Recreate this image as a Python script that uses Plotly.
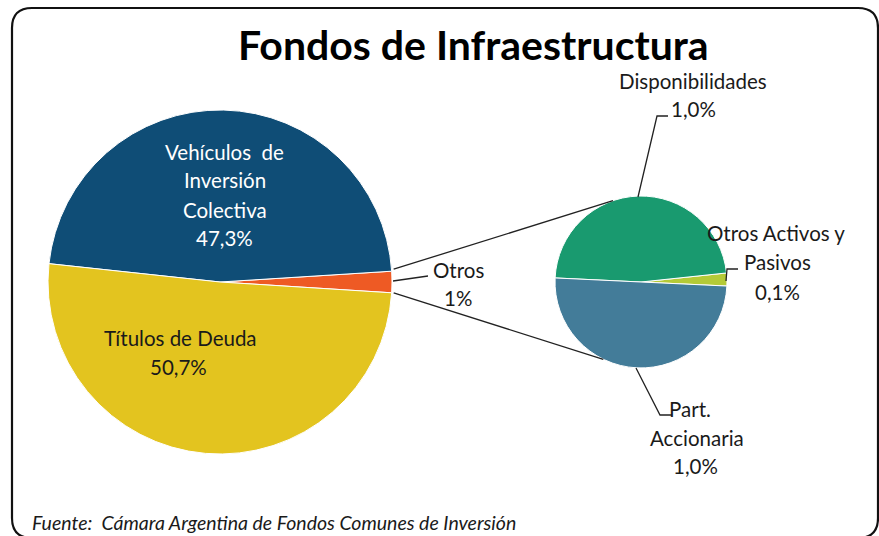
import math
import plotly.graph_objects as go

W, H = 879, 536

# ---- data ----
main_labels = ["Otros", "Vehículos de Inversión Colectiva", "Títulos de Deuda"]
main_values = [2.0, 47.3, 50.7]
main_colors = ["#EE5A24", "#0F4D76", "#E3C41F"]

sub_labels = ["Otros Activos y Pasivos", "Disponibilidades", "Part. Accionaria"]
sub_values = [0.05, 0.98, 1.03]
sub_colors = ["#B4CA37", "#199A6F", "#437C99"]

title_text = "Fondos de Infraestructura"
source_text = "Fuente:  Cámara Argentina de Fondos Comunes de Inversión"

# ---- geometry (pixels) ----
MC = (220, 282); MR = 172
SC = (641, 282); SR = 86

def px(x, y):
    return x / W, 1 - y / H

def dom(c, r):
    return dict(x=[(c[0] - r) / W, (c[0] + r) / W],
                y=[1 - (c[1] + r) / H, 1 - (c[1] - r) / H])

otros_deg = main_values[0] / sum(main_values) * 360
lime_deg = sub_values[0] / sum(sub_values) * 360
otros_half = otros_deg / 2

fig = go.Figure()
fig.add_trace(go.Pie(labels=main_labels, values=main_values, sort=False,
                     direction="counterclockwise", rotation=90 + otros_half - otros_deg,
                     marker=dict(colors=main_colors, line=dict(color="white", width=1)),
                     textinfo="none", domain=dom(MC, MR), showlegend=False))
fig.add_trace(go.Pie(labels=sub_labels, values=sub_values, sort=False,
                     direction="counterclockwise", rotation=92.7 - lime_deg,
                     marker=dict(colors=sub_colors, line=dict(color="white", width=1)),
                     textinfo="none", domain=dom(SC, SR), showlegend=False))

shapes = []
def line(p0, p1):
    x0, y0 = px(*p0); x1, y1 = px(*p1)
    shapes.append(dict(type="line", xref="paper", yref="paper", x0=x0, y0=y0, x1=x1, y1=y1,
                       line=dict(color="#222", width=1.3)))

def polyline(pts):
    d = "M " + " L ".join(f"{px(x, y)[0]},{px(x, y)[1]}" for x, y in pts)
    shapes.append(dict(type="path", xref="paper", yref="paper", path=d,
                       line=dict(color="#222", width=1.3)))

# connectors from "Otros" slice to secondary pie
a = math.radians(otros_half)
p_top = (MC[0] + MR * math.cos(a) + 2, MC[1] - MR * math.sin(a) - 2)
p_bot = (MC[0] + MR * math.cos(a) + 2, MC[1] + MR * math.sin(a))
b1 = math.radians(109); b2 = math.radians(-116)
line(p_top, (SC[0] + SR * math.cos(b1), SC[1] - SR * math.sin(b1)))
line(p_bot, (SC[0] + SR * math.cos(b2), SC[1] - SR * math.sin(b2)))

# leader lines
polyline([(393, 281), (428, 276)])
polyline([(638, 197), (657, 116), (668, 116)])
polyline([(636, 368), (660, 415), (672, 415)])
polyline([(726, 281), (727, 269), (738, 269)])

# rounded border
r = 20
x0, y0, x1, y1 = 12, 8, 878, 538
path = (f"M {px(x0+r,y0)[0]},{px(x0+r,y0)[1]} L {px(x1-r,y0)[0]},{px(x1-r,y0)[1]} "
        f"Q {px(x1,y0)[0]},{px(x1,y0)[1]} {px(x1,y0+r)[0]},{px(x1,y0+r)[1]} "
        f"L {px(x1,y1-r)[0]},{px(x1,y1-r)[1]} "
        f"Q {px(x1,y1)[0]},{px(x1,y1)[1]} {px(x1-r,y1)[0]},{px(x1-r,y1)[1]} "
        f"L {px(x0+r,y1)[0]},{px(x0+r,y1)[1]} "
        f"Q {px(x0,y1)[0]},{px(x0,y1)[1]} {px(x0,y1-r)[0]},{px(x0,y1-r)[1]} "
        f"L {px(x0,y0+r)[0]},{px(x0,y0+r)[1]} "
        f"Q {px(x0,y0)[0]},{px(x0,y0)[1]} {px(x0+r,y0)[0]},{px(x0+r,y0)[1]} Z")
shapes.append(dict(type="path", xref="paper", yref="paper", path=path,
                   line=dict(color="#111", width=2.2)))

ann = []
FONT = "Lato"
LS = 20.5
def text(t, x, y, size=LS, color="#1a1a1a", bold=False, italic=False, xanchor="center"):
    xx, yy = px(x, y)
    s = t
    if bold:
        s = f"<b>{s}</b>"
    if italic:
        s = f"<i>{s}</i>"
    ann.append(dict(text=s, x=xx, y=yy, xref="paper", yref="paper", showarrow=False,
                    xanchor=xanchor, yanchor="middle",
                    font=dict(family=FONT, size=size, color=color)))

text(title_text, 473, 44, size=41, color="#000", bold=True)

for t, y in [("Vehículos  de", 152), ("Inversión", 180), ("Colectiva", 210), ("47,3%", 238)]:
    text(t, 225, y, color="white")
text("Títulos de Deuda", 180, 338)
text("50,7%", 178, 367)

text("Otros", 458, 270)
text("1%", 458, 298)

text("Disponibilidades", 693, 81)
text("1,0%", 693, 109)
text("Otros Activos y", 776, 233)
text("Pasivos", 777, 262)
text("0,1%", 777, 292)
text("Part.", 690, 409)
text("Accionaria", 697, 438)
text("1,0%", 695, 466)

text(source_text, 30, 522, size=19.5, italic=True, xanchor="left")

fig.update_layout(width=W, height=H, margin=dict(l=0, r=0, t=0, b=0),
                  paper_bgcolor="white", plot_bgcolor="white",
                  shapes=shapes, annotations=ann, showlegend=False)
fig.write_html("out.html", config={"displayModeBar": False},
               post_script="document.body.style.margin='0';document.body.style.overflow='hidden';")
